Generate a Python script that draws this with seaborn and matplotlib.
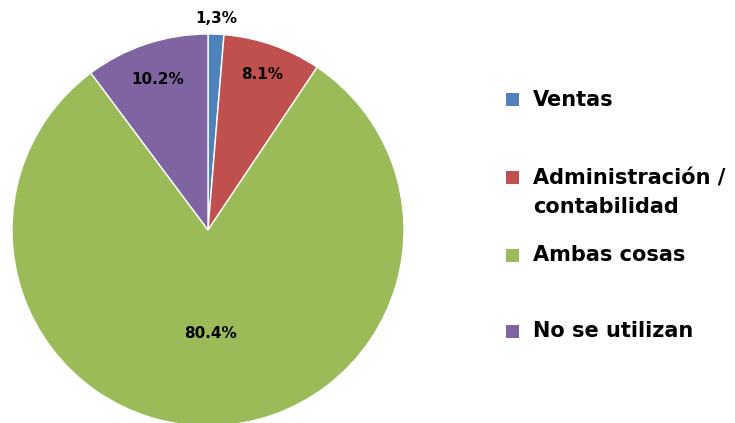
import matplotlib
matplotlib.use("Agg")
import matplotlib.pyplot as plt
import seaborn as sns
import numpy as np
from matplotlib.patches import Rectangle

categories = ["Ventas", "Administración /\ncontabilidad", "Ambas cosas", "No se utilizan"]
values = [1.3, 8.1, 80.4, 10.2]
value_labels = ["1,3%", "8.1%", "80.4%", "10.2%"]
colors = ["#4F81BD", "#C0504D", "#9BBB59", "#8064A2"]

sns.set_theme(style="white")
plt.rcParams['font.family'] = ['DejaVu Sans']

W, H = 735, 423
fig = plt.figure(figsize=(W / 100, H / 100), dpi=100)
cx, cy, R = 208, 230, 196
ax = fig.add_axes([(cx - R) / W, (H - cy - R) / H, 2 * R / W, 2 * R / H])
wedges, _ = ax.pie(values, colors=colors, startangle=90, counterclock=False,
                   radius=1.0, wedgeprops=dict(edgecolor="white", linewidth=1.0))
ax.set_xlim(-1, 1)
ax.set_ylim(-1, 1)
ax.set_aspect("equal")
ax.axis("off")

# label radii (layout)
label_r = [1.08, 0.84, 0.53, 0.81]
cum = np.cumsum([0] + values[:-1])
for v, c, lab, r in zip(values, cum, value_labels, label_r):
    ang = np.deg2rad(90 - (c + v / 2) * 3.6)
    ax.text(r * np.cos(ang), r * np.sin(ang), lab, ha="center", va="center",
            fontsize=11, fontweight="bold", color="black", clip_on=False)

# legend (manual, Excel-like spacing)
marker_y = [100, 178, 255, 331]
text_y = [100, 193, 255, 331]
sq = 13
for cat, col, my, ty in zip(categories, colors, marker_y, text_y):
    fig.patches.append(Rectangle((506 / W, (H - my - sq / 2) / H), sq / W, sq / H,
                                 transform=fig.transFigure, facecolor=col,
                                 edgecolor="none"))
    fig.text(533 / W, (H - ty) / H, cat, ha="left", va="center",
             fontsize=15, fontweight="bold", color="black", linespacing=1.55)

fig.savefig("out.png", dpi=100)
